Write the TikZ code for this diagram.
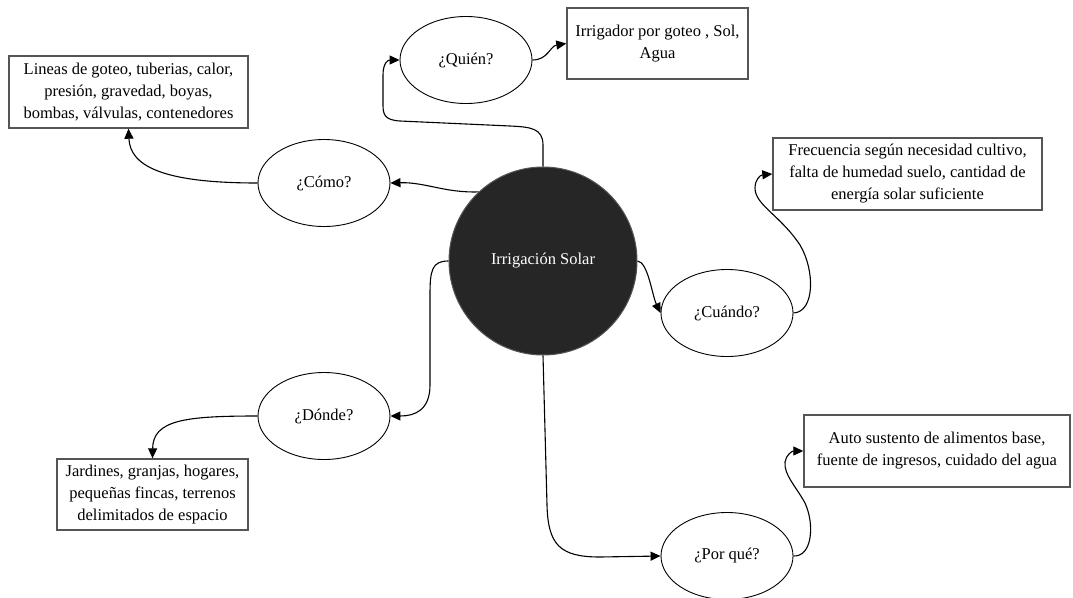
\documentclass[tikz,border=0pt]{standalone}
\usepackage{fontspec}
\setmainfont{Liberation Serif}
\usetikzlibrary{shapes.geometric, arrows.meta, positioning}
\definecolor{circulo}{RGB}{38,38,38}
\definecolor{borde}{RGB}{85,85,85}

\begin{document}
\begin{tikzpicture}[x=1pt, y=-1pt,
  pregunta/.style={ellipse, draw=black, line width=0.9pt, minimum width=132pt, minimum height=87pt, inner sep=0pt, font=\fontsize{16.5}{22}\selectfont},
  respuesta/.style={rectangle, draw=borde, line width=1.4pt, inner sep=0pt, align=center, font=\fontsize{16.5}{22}\selectfont},
  enlace/.style={-{Triangle[length=10pt,width=9pt]}, line width=1.1pt}]

% fondo y margenes
\fill[white] (0,0) rectangle (1073,597);
\useasboundingbox (0,0) rectangle (1073,597);

% nodo central
\node[circle, fill=circulo, draw=borde, line width=1pt, minimum size=188pt, inner sep=0pt,
  text=white, font=\fontsize{16.5}{22}\selectfont] (irrig) at (543,261) {Irrigación Solar};

% preguntas
\node[pregunta] (quien)  at (466,60)  {¿Quién?};
\node[pregunta] (como)   at (324,183) {¿Cómo?};
\node[pregunta] (cuando) at (727,313) {¿Cuándo?};
\node[pregunta] (donde)  at (324,416) {¿Dónde?};
\node[pregunta] (porque) at (727,556) {¿Por qué?};

% respuestas
\node[respuesta, minimum width=181pt, minimum height=71pt] (quienbox) at (657.5,43.5)
  {Irrigador por goteo , Sol,\\Agua};
\node[respuesta, minimum width=239pt, minimum height=72pt] (comobox) at (128.5,92)
  {Lineas de goteo, tuberias, calor,\\presión, gravedad, boyas,\\bombas, válvulas, contenedores};
\node[respuesta, minimum width=269pt, minimum height=72pt] (cuandobox) at (907.5,174)
  {Frecuencia según necesidad cultivo,\\falta de humedad suelo, cantidad de\\energía solar suficiente};
\node[respuesta, minimum width=191pt, minimum height=71pt] (dondebox) at (152.5,494.5)
  {Jardines, granjas, hogares,\\pequeñas fincas, terrenos\\delimitados de espacio};
\node[respuesta, minimum width=266pt, minimum height=72pt] (porquebox) at (937,451)
  {Auto sustento de alimentos base,\\fuente de ingresos, cuidado del agua};

% del centro a cada pregunta
\draw[enlace] (irrig.north) -- (543,145) .. controls (543,128) and (530,127) .. (510,126)
  -- (400,121) .. controls (385,120) and (383,115) .. (383,105) -- (383,75)
  .. controls (383,63) and (388,60) .. (quien.west);
\draw[enlace] (irrig.133) .. controls (445,193) and (425,182) .. (como.east);
\draw[enlace] (irrig.west) .. controls (432,261) and (430,270) .. (430,295) -- (430,385)
  .. controls (430,410) and (415,416) .. (donde.east);
\draw[enlace] (irrig.east) .. controls (648,262) and (652,295) .. (cuando.west);
\draw[enlace] (irrig.south) -- (547,505) .. controls (548,545) and (560,557) .. (600,557) -- (porque.west);

% de cada pregunta a su respuesta
\draw[enlace] (quien.east) .. controls (548,60) and (550,46) .. (quienbox.west);
\draw[enlace] (como.west) .. controls (160,183) and (130,165) .. (comobox.south);
\draw[enlace] (donde.west) .. controls (185,416) and (153,420) .. (dondebox.north);
\draw[enlace] (cuando.east) .. controls (815,312) and (815,270) .. (800,245)
  .. controls (780,215) and (755,205) .. (755,188)
  .. controls (755,180) and (760,175) .. (cuandobox.west);
\draw[enlace] (porque.east) .. controls (812,557) and (815,525) .. (805,503)
  .. controls (795,485) and (784,475) .. (785,462)
  .. controls (786,455) and (792,451) .. (porquebox.west);

\end{tikzpicture}
\end{document}
